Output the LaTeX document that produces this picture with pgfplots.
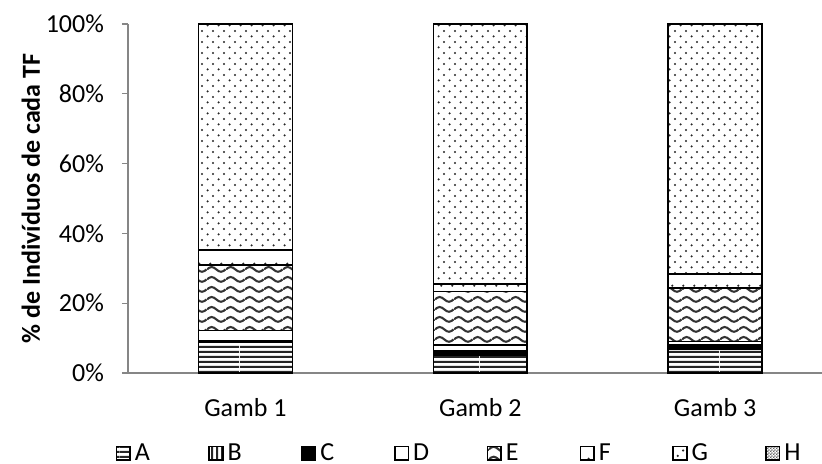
\documentclass[border=0pt]{standalone}
\usepackage{fontspec}
\setmainfont{Carlito}
\usepackage{pgfplots}
\pgfplotsset{compat=1.18}
\usetikzlibrary{patterns}

\newcommand{\fsz}{\fontsize{13pt}{15.6pt}\selectfont}
\definecolor{axisgray}{HTML}{868686}

% fill patterns for the stacked segments
\pgfdeclarepatternformonly{hstripes}{\pgfpointorigin}{\pgfpoint{60pt}{2.5pt}}{\pgfpoint{60pt}{2.5pt}}{%
  \pgfsetlinewidth{1.1pt}%
  \pgfpathmoveto{\pgfpoint{0pt}{1.25pt}}%
  \pgfpathlineto{\pgfpoint{60pt}{1.25pt}}%
  \pgfusepath{stroke}}
\pgfdeclarepatternformonly{vstripes}{\pgfpointorigin}{\pgfpoint{2.5pt}{60pt}}{\pgfpoint{2.5pt}{60pt}}{%
  \pgfsetlinewidth{1.1pt}%
  \pgfpathmoveto{\pgfpoint{1.25pt}{0pt}}%
  \pgfpathlineto{\pgfpoint{1.25pt}{60pt}}%
  \pgfusepath{stroke}}
\pgfdeclarepatternformonly{wave}{\pgfpointorigin}{\pgfpoint{9.4pt}{5pt}}{\pgfpoint{9.4pt}{5pt}}{%
  \pgfsetlinewidth{1.1pt}%
  \pgfpathmoveto{\pgfpoint{0pt}{2.5pt}}%
  \pgfpathsine{\pgfpoint{2.35pt}{1.3pt}}%
  \pgfpathcosine{\pgfpoint{2.35pt}{-1.3pt}}%
  \pgfpathsine{\pgfpoint{2.35pt}{-1.3pt}}%
  \pgfpathcosine{\pgfpoint{2.35pt}{1.3pt}}%
  \pgfusepath{stroke}}
\pgfdeclarepatternformonly{sparsedots}{\pgfpointorigin}{\pgfpoint{5.4pt}{10.8pt}}{\pgfpoint{5.4pt}{10.8pt}}{%
  \pgfpathcircle{\pgfpoint{2.7pt}{2.7pt}}{0.6pt}%
  \pgfusepath{fill}}
\pgfdeclarepatternformonly{smalldots}{\pgfpointorigin}{\pgfpoint{5.4pt}{5.4pt}}{\pgfpoint{5.4pt}{5.4pt}}{%
  \pgfpathcircle{\pgfpoint{1.35pt}{1.35pt}}{0.6pt}%
  \pgfpathcircle{\pgfpoint{4.05pt}{4.05pt}}{0.6pt}%
  \pgfusepath{fill}}
\pgfdeclarepatternformonly{checker}{\pgfpointorigin}{\pgfpoint{1.6pt}{1.6pt}}{\pgfpoint{1.6pt}{1.6pt}}{%
  \pgfpathrectangle{\pgfpointorigin}{\pgfpoint{0.8pt}{0.8pt}}%
  \pgfpathrectangle{\pgfpoint{0.8pt}{0.8pt}}{\pgfpoint{0.8pt}{0.8pt}}%
  \pgfusepath{fill}}

\begin{document}
\begin{tikzpicture}
\begin{axis}[
  at={(0pt,0pt)}, anchor=south west,
  scale only axis, width=347pt, height=174.5pt,
  ybar stacked, bar width=0.4,
  xmin=-0.5, xmax=2.455, ymin=0, ymax=100,
  axis x line*=bottom, axis y line*=left,
  axis line style={draw=axisgray, line width=0.6pt},
  xtick={0,1,2}, xticklabels={Gamb 1,Gamb 2,Gamb 3},
  xtick style={draw=none},
  ytick={0,20,...,100}, yticklabels={0\%,20\%,40\%,60\%,80\%,100\%},
  ytick style={draw=axisgray, line width=0.6pt},
  tick align=outside, major tick length=3pt,
  tick label style={font=\fsz},
  yticklabel style={xshift=-5.5pt},
  xticklabel style={yshift=-6pt},
  ylabel={\% de Indivíduos de cada TF},
  ylabel style={font=\fsz\bfseries, at={(axis description cs:-0.1398,0.5)}, anchor=center},
  clip=false,
  legend columns=8,
  legend style={draw=none, fill=none, inner sep=0pt, font=\fsz,
    at={(axis description cs:0.4798,-0.23)}, anchor=center,
    nodes={inner xsep=2pt, inner ysep=1pt, text width=9pt, align=left},
    /tikz/every even column/.append style={column sep=25.8pt}},
  legend image code/.code={\draw[#1] (0pt,-3.4pt) rectangle (6.8pt,3.4pt);},
  every axis plot/.append style={draw=black, line width=0.8pt},
]
\addplot[pattern=hstripes, pattern color=black!85] coordinates {(0,8.9) (1,5.2) (2,6.8)};
\addplot[pattern=vstripes, pattern color=black!85] coordinates {(0,0) (1,0) (2,0)};
\addplot[fill=black] coordinates {(0,0.3) (1,1.3) (2,1.2)};
\addplot[fill=white] coordinates {(0,3.0) (1,1.5) (2,1.0)};
\addplot[pattern=wave, pattern color=black!80] coordinates {(0,18.7) (1,15.3) (2,15.3)};
\addplot[pattern=sparsedots, pattern color=black!85] coordinates {(0,4.3) (1,2.2) (2,4.0)};
\addplot[pattern=smalldots, pattern color=black!85] coordinates {(0,64.8) (1,74.5) (2,71.7)};
\addplot[pattern=checker, pattern color=black!60] coordinates {(0,0) (1,0) (2,0)};
\legend{A,B,C,D,E,F,G,H}
\end{axis}
\pgfresetboundingbox
\path[use as bounding box] (-64pt,-45.5pt) rectangle (347pt,186.5pt);
\end{tikzpicture}
\end{document}
